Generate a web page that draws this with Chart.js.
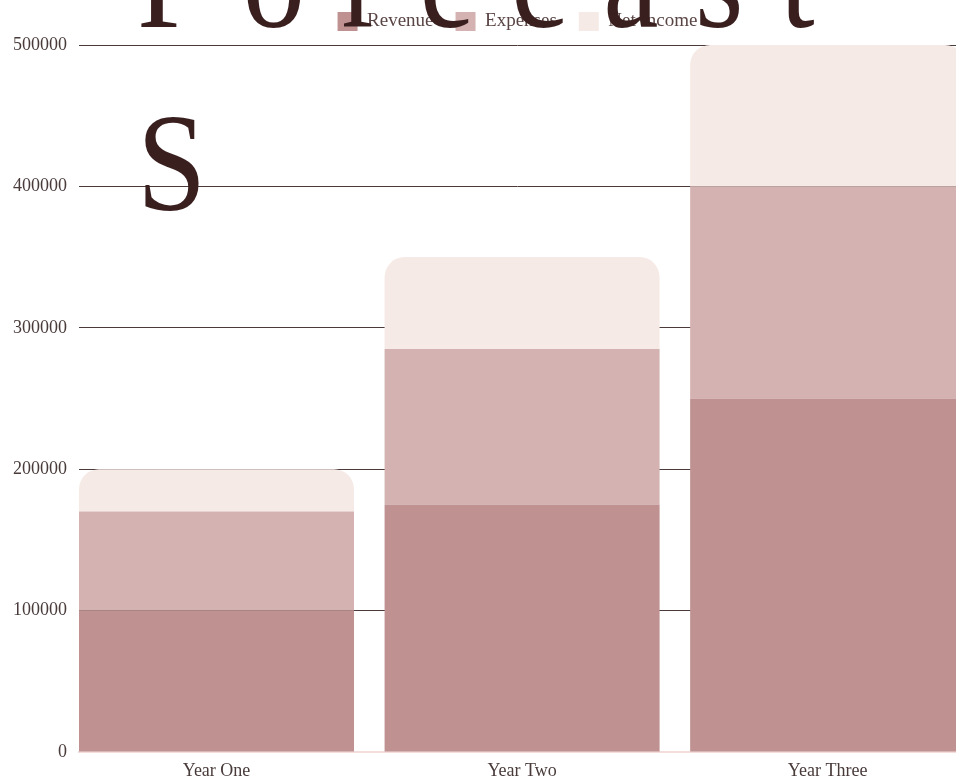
<!DOCTYPE html>
<html>
<head>
<meta charset="utf-8">
<script src="https://cdn.jsdelivr.net/npm/chart.js@4/dist/chart.umd.min.js"></script>
<style>
  html, body { margin: 0; padding: 0; background: #ffffff; overflow: hidden; width: 956px; height: 778px; }
  #wrap { position: absolute; left: 0; top: -10px; width: 956px; height: 788px; }
  #title {
    position: absolute; left: 137px; top: -112px; z-index: 5; pointer-events: none;
    font-family: "Liberation Serif", serif; font-size: 140px; line-height: 183px;
    letter-spacing: 41px; color: #3a1f1f; white-space: nowrap;
    transform: scaleX(0.89); transform-origin: 0 0;
  }
</style>
</head>
<body>
<div id="wrap"><canvas id="c" width="956" height="788" style="width:956px;height:788px"></canvas></div>
<div id="title">Forecast<br>S</div>
<script>
const categories = ['Year One', 'Year Two', 'Year Three'];
const revenue = [100000, 175000, 250000];
const expenses = [70000, 110000, 150000];
const netIncome = [30000, 65000, 100000];
const yTickValues = [0, 100000, 200000, 300000, 400000, 500000];

const toPoints = arr => arr.map((v, i) => ({ x: i, y: v }));
const serif = 'Liberation Serif';

const legendHeight = {
  id: 'legendHeight',
  beforeInit(chart) {
    const orig = chart.legend.fit;
    chart.legend.fit = function () { orig.call(this); this.height = 55; };
  }
};

new Chart(document.getElementById('c'), {
  type: 'bar',
  data: {
    datasets: [
      { label: 'Revenue', data: toPoints(revenue), backgroundColor: '#bf9191', borderWidth: 0 },
      { label: 'Expenses', data: toPoints(expenses), backgroundColor: '#d4b2b1', borderWidth: 0 },
      { label: 'Net Income', data: toPoints(netIncome), backgroundColor: '#f6eae6', borderWidth: 0,
        borderRadius: { topLeft: 20, topRight: 20, bottomLeft: 0, bottomRight: 0 }, borderSkipped: false }
    ]
  },
  options: {
    responsive: false,
    animation: false,
    layout: { padding: 0 },
    datasets: { bar: { barPercentage: 0.9, categoryPercentage: 1 } },
    plugins: {
      legend: {
        position: 'top', fullSize: false, align: 'center',
        labels: { boxWidth: 20, boxHeight: 19, padding: 22, color: '#5a4545', font: { family: serif, size: 19 } }
      },
      tooltip: { enabled: false }
    },
    scales: {
      x: {
        type: 'linear', stacked: true, min: -0.45, max: 2.42, offset: false,
        grid: { display: false },
        border: { display: true, color: '#f3dcdc', width: 2 },
        afterBuildTicks: s => { s.ticks = categories.map((c, i) => ({ value: i })); },
        afterFit: s => { s.height = 26; },
        ticks: { padding: 0, autoSkip: false, maxRotation: 0, color: '#4a3b3b',
          font: { family: serif, size: 18 }, callback: v => categories[v] }
      },
      y: {
        stacked: true, min: 0, max: 500000,
        grid: { color: '#4a3a3a', lineWidth: 1, drawTicks: false },
        border: { display: false },
        afterBuildTicks: s => { s.ticks = yTickValues.map(v => ({ value: v })); },
        afterFit: s => { s.width = 79; },
        ticks: { padding: 12, color: '#4a3b3b', font: { family: serif, size: 18 }, callback: v => String(v) }
      }
    }
  },
  plugins: [legendHeight]
});
</script>
</body>
</html>
